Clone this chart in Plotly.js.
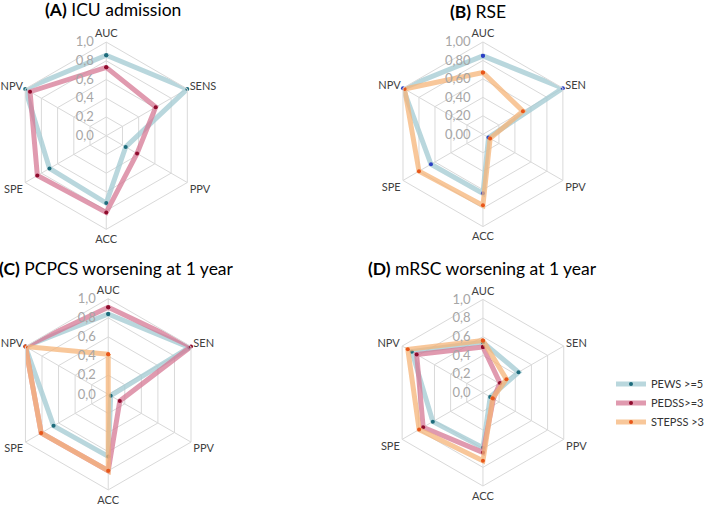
<!DOCTYPE html>
<html>
<head>
<meta charset="utf-8">
<script src="https://cdn.plot.ly/plotly-3.0.1.min.js"></script>
<style>html,body{margin:0;padding:0;background:#fff;}#chart{width:709px;height:506px;}</style>
</head>
<body>
<div id="chart"></div>
<script>
// Categories (clockwise from top)
const catsA = ["AUC", "SENS", "PPV", "ACC", "SPE", "NPV"];
const catsOther = ["AUC", "SEN", "PPV", "ACC", "SPE", "NPV"];

// (A) ICU admission
const icuPEWS  = [0.86, 1.00, 0.24, 0.72, 0.70, 1.00];
const icuPEDSS = [0.73, 0.61, 0.38, 0.82, 0.85, 0.94];

// (B) RSE
const rsePEWS   = [0.85, 1.00, 0.07, 0.64, 0.65, 1.00];
const rseSTEPSS = [0.67, 0.50, 0.09, 0.77, 0.80, 0.98];

// (C) PCPCS worsening at 1 year
const pcpcsPEWS   = [0.84, 0.98, 0.03, 0.65, 0.66, 1.00];
const pcpcsPEDSS  = [0.91, 1.00, 0.14, 0.80, 0.81, 1.00];
const pcpcsSTEPSS = [0.42, 0.00, 0.00, 0.80, 0.81, 1.00];

// (D) mRSC worsening at 1 year
const mrscPEWS   = [0.54, 0.44, 0.09, 0.59, 0.62, 0.88];
const mrscPEDSS  = [0.49, 0.21, 0.13, 0.64, 0.74, 0.82];
const mrscSTEPSS = [0.56, 0.29, 0.12, 0.73, 0.79, 0.93];

// Radial tick labels
const tickVals = [0, 0.2, 0.4, 0.6, 0.8, 1.0];
const tickText1 = ["0,0", "0,2", "0,4", "0,6", "0,8", "1,0"];
const tickText2 = ["0,00", "0,20", "0,40", "0,60", "0,80", "1,00"];

const seriesNames = ["PEWS >=5", "PEDSS>=3", "STEPSS >3"];
const lineColors = ["rgba(165,204,212,0.78)", "rgba(214,120,148,0.75)", "rgba(245,180,120,0.75)"];
const markerColors = ["#1d6b7b", "#8e0b2c", "#e8561a"];
const legendIds = ["legend", "legend2", "legend3"];

function close(arr) { return arr.concat([arr[0]]); }
function pad(arr) { return arr.map(function (t) { return t + "\u00a0\u00a0\u00a0"; }); }

const traces = [];
function addTrace(vals, cats, sIdx, subplot, showLegend, mColor) {
  traces.push({
    type: "scatterpolar",
    mode: "lines+markers",
    r: close(vals),
    theta: close(cats),
    subplot: subplot,
    name: seriesNames[sIdx],
    legend: legendIds[sIdx],
    showlegend: showLegend,
    line: { color: lineColors[sIdx], width: 5 },
    marker: { color: mColor || markerColors[sIdx], size: 4 },
    hoverinfo: "skip"
  });
}

addTrace(icuPEWS, catsA, 0, "polar", false);
addTrace(icuPEDSS, catsA, 1, "polar", false);
addTrace(rsePEWS, catsOther, 0, "polar2", false, "#2a3fc4");
addTrace(rseSTEPSS, catsOther, 2, "polar2", false);
addTrace(pcpcsPEWS, catsOther, 0, "polar3", false);
addTrace(pcpcsPEDSS, catsOther, 1, "polar3", false);
addTrace(pcpcsSTEPSS, catsOther, 2, "polar3", false);
addTrace(mrscPEWS, catsOther, 0, "polar4", true);
addTrace(mrscPEDSS, catsOther, 1, "polar4", true);
addTrace(mrscSTEPSS, catsOther, 2, "polar4", true);

function polarCfg(dx, dy, ticktext) {
  return {
    domain: { x: dx, y: dy },
    gridshape: "linear",
    bgcolor: "rgba(0,0,0,0)",
    radialaxis: {
      range: [0, 1],
      tickvals: tickVals,
      ticktext: pad(ticktext),
      angle: 90,
      tickangle: 90,
      side: "counterclockwise",
      showline: false,
      ticks: "",
      gridcolor: "#d9d9d9",
      gridwidth: 1,
      tickfont: { family: "Lato, 'Open Sans', sans-serif", size: 13, color: "#a6a6a6" }
    },
    angularaxis: {
      rotation: 90,
      direction: "clockwise",
      ticks: "",
      showline: true,
      linecolor: "#d9d9d9",
      linewidth: 1,
      gridcolor: "#d9d9d9",
      tickfont: { family: "Lato, 'Open Sans', sans-serif", size: 11, color: "#404040" }
    }
  };
}

const titleFont = { family: "Lato, 'Open Sans', sans-serif", size: 17.5, color: "#000" };
function legendCfg(yPx) {
  return {
    x: 0.866, y: 1 - yPx / 506, xanchor: "left", yanchor: "middle",
    font: { family: "Lato, 'Open Sans', sans-serif", size: 11, color: "#333" },
    itemwidth: 30,
    bgcolor: "rgba(0,0,0,0)"
  };
}

const layout = {
  width: 709,
  height: 506,
  margin: { l: 0, r: 0, t: 0, b: 0 },
  paper_bgcolor: "#fff",
  showlegend: true,
  legend: legendCfg(384),
  legend2: legendCfg(403),
  legend3: legendCfg(422),
  polar: polarCfg([0.0179, 0.2831], [0.546, 0.9176], tickText1),
  polar2: polarCfg([0.5533, 0.8148], [0.5514, 0.9178], tickText2),
  polar3: polarCfg([0.0179, 0.2887], [0.031, 0.4105], tickText1),
  polar4: polarCfg([0.5519, 0.8162], [0.0387, 0.4091], tickText1),
  annotations: [
    { text: "<b>(A)</b> ICU admission", x: 113.6 / 709, y: 1 - 9 / 506, xref: "paper", yref: "paper", xanchor: "center", yanchor: "middle", showarrow: false, font: titleFont },
    { text: "<b>(B)</b> RSE", x: 480 / 709, y: 1 - 12 / 506, xref: "paper", yref: "paper", xanchor: "center", yanchor: "middle", showarrow: false, font: titleFont },
    { text: "<b>(C)</b> PCPCS worsening at 1 year", x: 117 / 709, y: 1 - 268 / 506, xref: "paper", yref: "paper", xanchor: "center", yanchor: "middle", showarrow: false, font: titleFont },
    { text: "<b>(D)</b> mRSC worsening at 1 year", x: 485 / 709, y: 1 - 268 / 506, xref: "paper", yref: "paper", xanchor: "center", yanchor: "middle", showarrow: false, font: titleFont }
  ]
};

Plotly.newPlot("chart", traces, layout, { displayModeBar: false, staticPlot: true });
</script>
</body>
</html>
